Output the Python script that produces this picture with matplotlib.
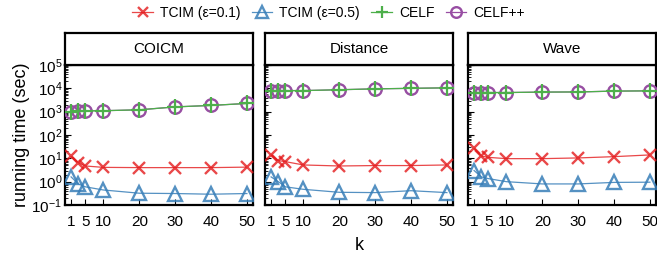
import matplotlib
matplotlib.use("Agg")
import matplotlib.pyplot as plt
from matplotlib.ticker import LogLocator, NullFormatter, LogFormatterMathtext
import numpy as np

plt.rcParams['font.family'] = ['Liberation Sans', 'DejaVu Sans']
plt.rcParams['mathtext.fontset'] = 'custom'
plt.rcParams['mathtext.rm'] = 'Liberation Sans'
plt.rcParams['mathtext.it'] = 'Liberation Sans'

k = [1, 3, 5, 10, 20, 30, 40, 50]
xtick_labels = [1, 5, 10, 20, 30, 40, 50]
panels = ["COICM", "Distance", "Wave"]

tcim01 = {
    "COICM":    [12, 6.5, 4.7, 4.1, 4.0, 4.0, 4.0, 4.2],
    "Distance": [14, 8.0, 7.2, 5.2, 4.7, 4.9, 4.9, 5.2],
    "Wave":     [27, 12.6, 11, 9.7, 9.7, 10.4, 11.8, 14],
}
tcim05 = {
    "COICM":    [1.6, 0.8, 0.6, 0.44, 0.32, 0.31, 0.29, 0.31],
    "Distance": [1.6, 1.0, 0.6, 0.47, 0.35, 0.34, 0.41, 0.34],
    "Wave":     [3.0, 1.6, 1.35, 1.0, 0.8, 0.8, 0.93, 0.95],
}
celf = {
    "COICM":    [1000, 1050, 1080, 1100, 1200, 1600, 1850, 2250],
    "Distance": [8000, 8000, 8000, 8000, 8700, 9500, 10000, 10500],
    "Wave":     [6600, 6600, 6600, 6600, 6900, 7000, 7600, 7800],
}
celfpp = {
    "COICM":    [1000, 1050, 1080, 1100, 1200, 1600, 1850, 2250],
    "Distance": [8000, 8000, 8000, 8000, 8700, 9500, 10000, 10500],
    "Wave":     [6600, 6600, 6600, 6600, 6900, 7000, 7600, 7800],
}

RED = "#e41a1c"
BLUE = "#377eb8"
GREEN = "#4daf4a"
PURPLE = "#984ea3"

W, H = 657, 254
fig = plt.figure(figsize=(W / 100, H / 100), dpi=100)

lefts = [65, 265, 468]
width = 188
bottom_px, top_px, head_px = 205, 65, 33

for i, name in enumerate(panels):
    l = lefts[i] / W
    w = width / W
    b = 1 - bottom_px / H
    h = (bottom_px - top_px) / H
    ax = fig.add_axes([l, b, w, h])
    ax.plot(k, tcim01[name], color=RED, lw=0.9, alpha=0.8, marker='x', ms=9,
            mew=1.7, mec=RED, label="TCIM (ε=0.1)", zorder=3)
    ax.plot(k, tcim05[name], color=BLUE, lw=0.9, alpha=0.85, marker='^', ms=10,
            mew=1.7, mfc='none', mec=BLUE, label="TCIM (ε=0.5)", zorder=3)
    ax.plot(k, celfpp[name], color=PURPLE, lw=0.9, marker='o', ms=9,
            mew=1.7, mfc='none', mec=PURPLE, label="CELF++", zorder=3)
    ax.plot(k, celf[name], color=GREEN, lw=0.9, marker='+', ms=11,
            mew=1.6, mec=GREEN, label="CELF", zorder=4)
    ax.set_yscale('log')
    ax.set_ylim(0.1, 1e5)
    ax.set_xlim(-0.7, 51.7)
    ax.set_xticks(xtick_labels)
    ax.set_xticklabels([str(v) for v in xtick_labels], fontsize=11)
    ax.yaxis.set_major_locator(LogLocator(base=10, numticks=10))
    ax.yaxis.set_minor_locator(LogLocator(base=10, subs=np.arange(2, 10), numticks=20))
    ax.yaxis.set_minor_formatter(NullFormatter())
    ax.tick_params(axis='both', which='major', direction='in', length=4, width=0.8)
    ax.tick_params(axis='y', which='minor', direction='in', length=2, width=0.6)
    ax.tick_params(axis='x', pad=7)
    if i == 0:
        ax.yaxis.set_major_formatter(LogFormatterMathtext())
        ax.tick_params(axis='y', labelsize=11, pad=2)
        ax.set_ylabel("running time (sec)", fontsize=13, labelpad=1)
    else:
        ax.set_yticklabels([])
    for s in ax.spines.values():
        s.set_linewidth(1.6)
    if i == 1:
        ax.set_xlabel("k", fontsize=13, labelpad=6)
    # header strip
    hax = fig.add_axes([l, 1 - top_px / H, w, (top_px - head_px) / H])
    hax.set_xticks([])
    hax.set_yticks([])
    for s in hax.spines.values():
        s.set_linewidth(1.6)
    hax.text(0.5, 0.5, name, ha='center', va='center', fontsize=11,
             transform=hax.transAxes)
    if i == 0:
        handles, labels = ax.get_legend_handles_labels()

order = ["TCIM (ε=0.1)", "TCIM (ε=0.5)", "CELF", "CELF++"]
hmap = dict(zip(labels, handles))
fig.legend([hmap[o] for o in order], order, loc='center', ncol=4,
           bbox_to_anchor=(0.5, 1 - 13 / H), frameon=False, fontsize=10,
           handlelength=1.5, handletextpad=0.5, columnspacing=0.8,
           borderaxespad=0, markerscale=0.85)

fig.savefig("out.png", dpi=100)
